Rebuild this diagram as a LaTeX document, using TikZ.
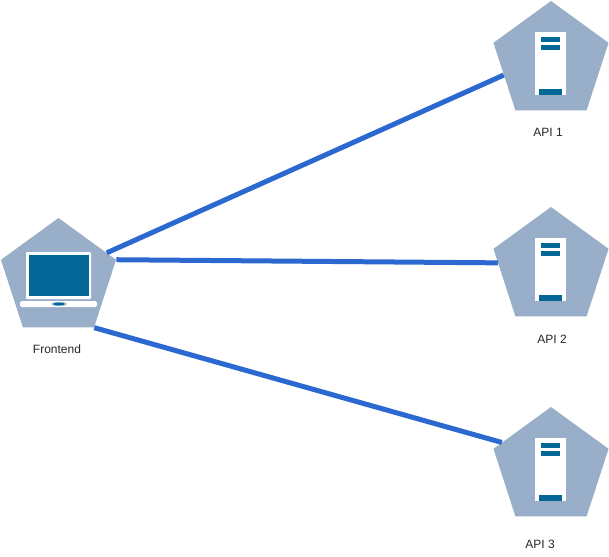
\documentclass[tikz,border=0pt]{standalone}
\usepackage{fontspec}
\setmainfont{Liberation Sans}
\usetikzlibrary{shapes.geometric}
\definecolor{penta}{HTML}{98AEC9}
\definecolor{iconblue}{HTML}{036897}
\definecolor{linkblue}{HTML}{2B69D0}
\tikzset{
  site/.style={regular polygon,regular polygon sides=5,minimum size=121pt,inner sep=0pt,fill=penta,draw=none},
  link/.style={draw=linkblue,line width=5pt},
  lbl/.style={inner sep=0pt,font=\fontsize{12}{14}\selectfont,text=black!85},
  serverpic/.pic={
    \fill[white] (-16,-29.5) rectangle (15,33.5);
    \fill[iconblue] (-10,-24.5) rectangle (9,-19.5);
    \fill[iconblue] (-10,-16.5) rectangle (9,-11.5);
    \fill[iconblue] (-12,27.5) rectangle (11,33.5);
  }
}
\begin{document}
\begin{tikzpicture}[x=1pt,y=-1pt]
\useasboundingbox (0,0) rectangle (609,556);
\node[site] (fe) at (58.5,278.5) {};
\node[site] (a1) at (551,61.5) {};
\node[site] (a2) at (551,267.5) {};
\node[site] (a3) at (551,467.5) {};
% laptop
\fill[white,rounded corners=1pt] (26,252) rectangle (91,299);
\fill[iconblue] (29,255) rectangle (89,296);
\fill[white,rounded corners=1.5pt] (20,301) rectangle (97,307);
\fill[iconblue!35] (59,304) ellipse [x radius=8,y radius=2];
\fill[iconblue] (59,304) ellipse [x radius=6,y radius=1.5];
% servers
\pic at (551,61.5) {serverpic};
\pic at (551,267.5) {serverpic};
\pic at (551,467.5) {serverpic};
% connectors
\draw[link] (fe.28.7) -- (a1.196.8);
\draw[link] (fe.corner 5) -- (a2.175);
\draw[link] (fe.-54) -- (a3.153.4);
% labels
\node[lbl] (lfe) at (57,349) {Frontend};
\node[lbl] (l1) at (548,132) {API 1};
\node[lbl] (l2) at (552,339) {API 2};
\node[lbl] (l3) at (540,544) {API 3};
\end{tikzpicture}
\end{document}
